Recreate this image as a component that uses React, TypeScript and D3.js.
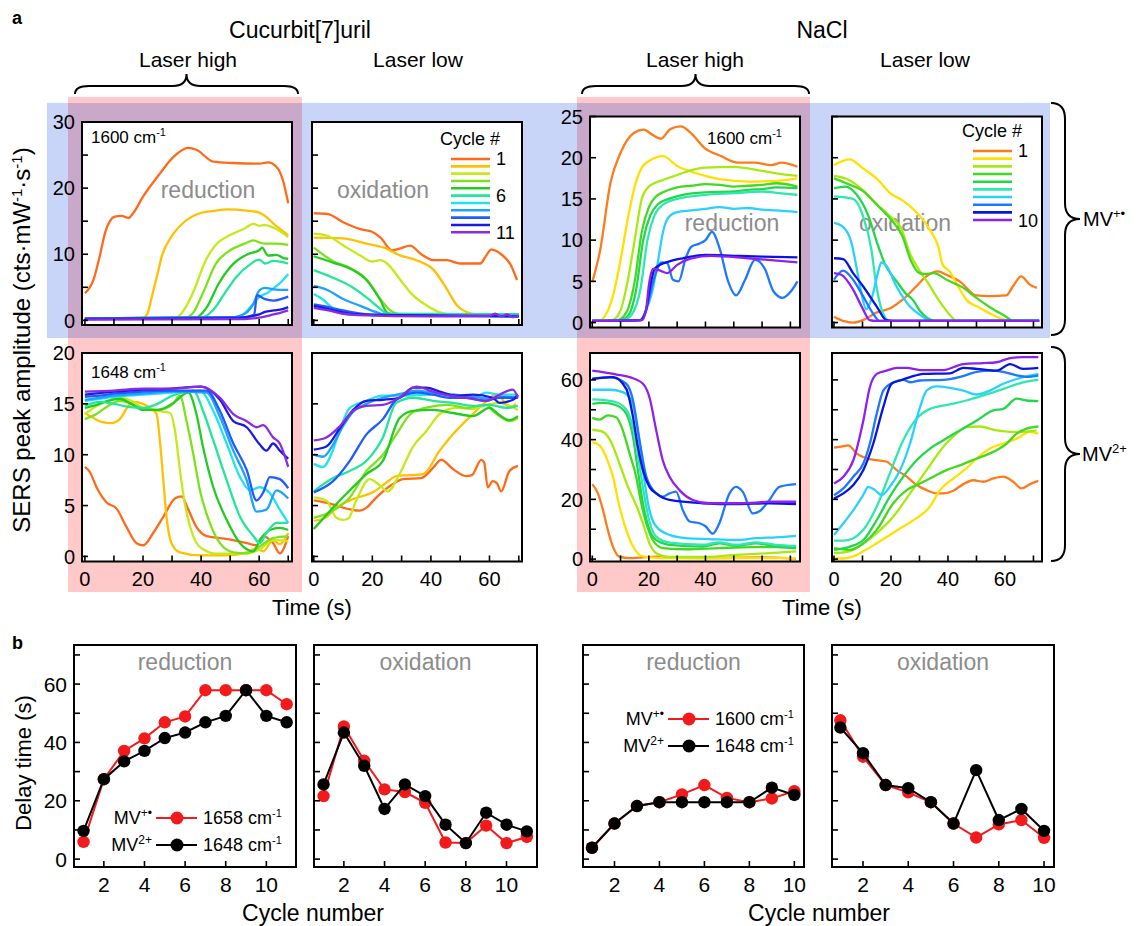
import React from "react";
import * as d3 from "d3";

type Pt = [number, number];

const FONT = "'Liberation Sans', Arial, Helvetica, sans-serif";

// cycle colours
const cbColors = ["#ff6a1a", "#ffc000", "#c4ea1a", "#7ee21a", "#22cc22", "#22e69a", "#22e2ee", "#1ea2ff", "#1e5cff", "#1a1ae0", "#8a2be2"];
const naColors = ["#ff7a1a", "#ffe000", "#a8ea10", "#44d820", "#22d84a", "#2ee8b0", "#2ad0ff", "#1e78ff", "#0a14e0", "#9020f0"];

// ---------- a: Cucurbit[7]uril, MV+. 1600 cm-1, laser high ----------
const cbRedMV1: Pt[][] = [
  [[0, 4.1], [3, 6.2], [5, 9.5], [7, 13.3], [8.6, 15], [10.3, 15.7], [12.6, 15.8], [15, 15.5], [16.6, 16.2], [20, 18.7], [25.8, 22.2], [30.4, 24.7], [35.6, 26.1], [38.4, 25.8], [44.2, 24], [51, 23.8], [60.2, 23.7], [63, 23.9], [66, 23.2], [68.3, 21], [70, 17.7]],
  [[0, 0.3], [20, 0.4], [21.5, 1], [23, 3.5], [25, 7], [26.4, 9.6], [30, 12.8], [34, 14.8], [39.6, 16.2], [45, 16.6], [48.8, 16.8], [55.7, 16.6], [60, 16.3], [62, 15.8], [65, 14.6], [70, 12.9]],
  [[0, 0.3], [31, 0.3], [34, 1.5], [38, 5], [41, 8.5], [45, 11.4], [50, 12.9], [55, 13.9], [58, 14.6], [60, 14.3], [62, 14.4], [65, 14.0], [70, 12.6]],
  [[0, 0.3], [34, 0.3], [37, 1], [41, 4.5], [45, 8.5], [50, 10.6], [55, 11.6], [58, 12.1], [60, 11.8], [62, 11.6], [66, 11.6], [70, 11.4]],
  [[0, 0.3], [38, 0.4], [42, 2], [46, 5.5], [51, 8.5], [56, 10], [60, 10.6], [61, 11.0], [63, 9.8], [66, 9.9], [68, 9.5], [70, 9.3]],
  [[0, 0.3], [40, 0.4], [44, 1.5], [48, 4], [52, 6.5], [57, 8.5], [60, 9.2], [62, 8.6], [65, 9.0], [70, 8.6]],
  [[0, 0.3], [50, 0.4], [54, 0.8], [57, 2], [60, 3.5], [63, 4.2], [66, 5.2], [68, 6], [70, 7]],
  [[0, 0.3], [50, 0.4], [55, 1.0], [58, 2.5], [60, 4.5], [62, 4.9], [65, 4.7], [68, 4.6], [70, 4.6]],
  [[0, 0.3], [55, 0.5], [58.3, 0.9], [59.2, 3.8], [62, 3.2], [65, 3.0], [68, 3.3], [70, 3.6]],
  [[0, 0.2], [52, 0.3], [57, 0.6], [60, 0.9], [62, 1.3], [65, 1.5], [68, 1.7], [70, 2.0]],
  [[0, 0.1], [55, 0.2], [60, 0.4], [64, 0.8], [67, 1.1], [70, 1.5]],
];

// Cucurbit[7]uril, MV+. 1600 cm-1, laser low
const cbOxMV1: Pt[][] = [
  [[0, 16.2], [4.6, 16.1], [10.2, 14.8], [15.9, 13.8], [19.9, 13.4], [22.8, 12.5], [26.7, 10.6], [29.6, 10.9], [33, 11.3], [36.4, 10.1], [41, 9.1], [45.5, 9.1], [50, 8.6], [56.9, 8.6], [58.6, 9.6], [60.6, 10.7], [63.7, 10.1], [67.2, 8.4], [69.4, 6.1]],
  [[0, 12.5], [10, 12.4], [18, 11.6], [24, 11], [29.6, 9.8], [35, 9.1], [41, 7.6], [45.5, 4.7], [49, 2.2], [52.4, 1.2], [56, 0.9], [70, 0.9]],
  [[0, 13.1], [4.6, 12.8], [10.2, 11.3], [15.9, 9.8], [19.9, 8.9], [22.8, 9.1], [25, 8.6], [29.6, 6.1], [33, 4.2], [38.7, 2.2], [43, 1.2], [47, 0.9], [70, 0.9]],
  [[0, 11], [6.8, 8.9], [12.5, 7.9], [18.2, 6.1], [22.8, 3.2], [26.2, 1.5], [30, 0.9], [70, 0.9]],
  [[0, 9.7], [6.8, 8.7], [12.5, 7.8], [18.2, 6.0], [22.8, 3.0], [25, 1.2], [28, 0.9], [70, 0.9]],
  [[0, 7.6], [6.8, 6.4], [12.5, 5.2], [18.2, 3.4], [22.8, 1.7], [25, 1.0], [70, 0.9]],
  [[0, 4.0], [3, 3.2], [6, 2], [9, 1.2], [12, 0.9], [70, 0.7]],
  [[0, 5.2], [4.6, 4.6], [10.2, 3.2], [15.9, 2.2], [21.6, 1.2], [25, 0.8], [70, 0.7]],
  [[0, 2.4], [5, 2.0], [10, 1.5], [15, 1.1], [20, 0.8], [70, 0.6]],
  [[0, 2.2], [5, 1.7], [10, 1.2], [15, 0.9], [70, 0.6]],
  [[0, 1.9], [5, 1.5], [10, 1.0], [15, 0.8], [40, 0.6], [60, 0.7], [62, 1.0], [64, 0.6], [66, 0.9], [68, 0.5], [70, 0.6]],
];

// NaCl, MV+. 1600 cm-1, laser high
const naRedMV1: Pt[][] = [
  [[0, 4.9], [2.8, 8.8], [6.4, 16.9], [10, 20.6], [14.7, 23], [18.2, 23.4], [21.2, 22.8], [24.2, 22.3], [27.7, 23.5], [31.3, 23.8], [34.8, 23], [39.6, 21.2], [45.5, 20.2], [51.4, 19.4], [57.3, 19.4], [63.3, 19.1], [66.8, 19.4], [72.5, 18.9]],
  [[0, 0.2], [3, 0.3], [5, 1.1], [7.5, 3.5], [10, 7.6], [12.5, 12.5], [15, 16.5], [17.5, 18.8], [20, 19.6], [25, 20.2], [30, 19], [35, 18.3], [40, 17.8], [45, 17.4], [55, 17.1], [65, 17.2], [72.5, 17.5]],
  [[0, 0.2], [7, 0.3], [10, 1.5], [12.5, 5], [15, 10], [17.5, 15], [20, 16.5], [25, 17.3], [30, 17.9], [35, 18.5], [40, 18.8], [50, 18.9], [55, 18.7], [60, 18.4], [65, 18.1], [72.5, 17.8]],
  [[0, 0.2], [9, 0.3], [12, 1.2], [15, 5], [17.5, 11], [20, 14], [22.5, 15.3], [25, 15.8], [30, 16.4], [35, 16.6], [40, 16.8], [45, 16.7], [50, 16.5], [55, 16.6], [60, 16.7], [65, 16.9], [72.5, 16.5]],
  [[0, 0.2], [10, 0.3], [13, 1], [15.5, 4], [18, 10], [20.5, 13], [23, 14.3], [27, 15], [32, 15.5], [40, 15.8], [50, 15.9], [55, 16.1], [60, 16.2], [65, 16.4], [72.5, 16.3]],
  [[0, 0.2], [11, 0.3], [14, 1], [17, 4], [19.5, 10], [22, 13], [25, 14.3], [30, 15], [40, 15.5], [50, 15.7], [60, 15.9], [66, 15.7], [72.5, 15.5]],
  [[0, 0.2], [17, 0.3], [19, 1.5], [21, 3.5], [23, 7], [25, 11], [27, 12.8], [30, 13.4], [35, 13.6], [40, 13.8], [45, 14], [50, 13.8], [55, 13.9], [60, 13.7], [65, 13.6], [72.5, 13.4]],
  [[0, 0.2], [17, 0.3], [19, 1.5], [20, 2.8], [22, 5.5], [24.5, 7.3], [26.5, 7.2], [28.5, 5.2], [30.5, 5.0], [33, 7.8], [35, 9.2], [38, 9.6], [40, 10], [42.3, 11.0], [45, 9], [48, 5], [50.8, 3.3], [54, 5.2], [57.5, 7.6], [61, 6.5], [64, 3.8], [67.3, 3.0], [70, 3.7], [72.5, 5.0]],
  [[0, 0.2], [17, 0.3], [19, 1.5], [20.5, 4.5], [22, 6.5], [24, 7.0], [27, 7.4], [32, 7.8], [40, 8.2], [50, 8.1], [60, 8.0], [72.5, 7.9]],
  [[0, 0.2], [17.5, 0.3], [19, 1.5], [20, 4.5], [21.5, 6.5], [24, 6.3], [26.5, 6.0], [30, 7], [35, 7.8], [42, 8.1], [55, 7.8], [72.5, 7.3]],
];

// NaCl, MV+. 1600 cm-1, laser low
const naOxMV1: Pt[][] = [
  [[0, 0.7], [3.2, 0.2], [6.7, 0], [10.2, 0.3], [14.9, 1.2], [20.1, 1.8], [24.2, 2.8], [28.9, 4.4], [32.4, 5.6], [36.5, 6.2], [39.4, 5.8], [44.1, 5.0], [49.9, 3.3], [54.6, 3.2], [60.5, 3.3], [62.8, 4.4], [65.7, 5.6], [68.7, 4.6], [71.2, 4.2]],
  [[0, 19.1], [5.5, 19.8], [10.2, 18.7], [14.9, 17.5], [20.1, 15.6], [24.2, 14.8], [28.9, 13.4], [33.6, 11.3], [36.5, 9.3], [38.2, 7], [40.6, 6.2], [43.5, 4.4], [46.4, 2.8], [51.1, 1.8], [57, 0.7], [61.6, 0.2], [72, 0.2]],
  [[0, 17.8], [5.3, 17.3], [10, 16.1], [15.5, 14.2], [20, 12.8], [23.5, 11.5], [26.5, 8.5], [30, 6.3], [33, 4.8], [37, 2.6], [41, 0.8], [43, 0.2], [72, 0.2]],
  [[0, 17.5], [5, 16.8], [10, 16.0], [15, 14.3], [20, 12.5], [24, 10.5], [27, 7.5], [30, 6.0], [32, 5.9], [35, 6.0], [40, 5.1], [45, 4.3], [50, 3.0], [55, 1.8], [60, 0.8], [63, 0.2], [72, 0.2]],
  [[0, 16.3], [4, 16.5], [8, 15.5], [12, 13.0], [15, 9.8], [18, 7.0], [22, 5.0], [25, 3.6], [28, 2.6], [30, 1.5], [33, 0.5], [36, 0.2], [72, 0.2]],
  [[0, 15.3], [6.7, 15], [10.2, 12.9], [13.1, 8.9], [14.9, 4.4], [17.2, 1.1], [19.5, 0.2], [72, 0.2]],
  [[0, 12.1], [3.2, 11.6], [6.1, 9.7], [7.8, 6.9], [9.6, 3.6], [11.3, 1.6], [13.1, 2.8], [15.4, 6.0], [16.6, 7.3], [18.4, 6.9], [21.9, 4.4], [26.5, 2.0], [31.2, 0.7], [33.6, 0.2], [72, 0.2]],
  [[0, 5.2], [3.2, 6.3], [6.7, 5.2], [10.2, 3.2], [13.7, 1.1], [16, 0.2], [72, 0.2]],
  [[0, 7.8], [3.2, 7.7], [6.7, 6.0], [10.2, 4.4], [14.9, 2.0], [18.4, 0.3], [20.7, 0.2], [72, 0.2]],
  [[0, 6.0], [2.6, 5.8], [6.7, 4.0], [10.2, 1.6], [12.5, 0.3], [14.9, 0.2], [72, 0.2]],
];

// Cucurbit[7]uril, MV2+ 1648 cm-1, laser high
const cbRedMV2: Pt[][] = [
  [[0, 8.8], [1.7, 8.3], [4, 6.8], [7.5, 5.3], [10.9, 4.7], [14.3, 2.9], [17.8, 1.3], [20.1, 1.1], [23.5, 2.3], [27, 3.9], [31, 5.7], [33.3, 5.9], [35.6, 4.6], [38.4, 2.9], [41.9, 2.0], [46.5, 1.8], [51, 1.6], [55.7, 1.3], [59.1, 1.1], [61.4, 2.0], [64.8, 1.3], [67.1, 0.3], [70, 2.0]],
  [[0, 14.1], [3, 13.6], [6, 13.2], [9, 13.1], [12, 13.5], [15, 14.8], [17, 15.2], [20, 15.0], [23, 14.5], [24.7, 14.0], [25.8, 11.4], [27, 7.5], [28.1, 3.9], [29.8, 1.3], [32.7, 0.4], [40, 0.1], [48.8, 0.1], [55.7, 0.4], [59.1, 0.8], [61.4, 0.5], [64.8, 1.6], [67, 1.2], [70, 2.3]],
  [[0, 14.0], [4, 14.8], [8, 15.3], [12, 15.6], [16, 15.3], [20, 14.6], [25, 14.3], [29.3, 14.1], [31, 12.4], [32.7, 8.5], [34.4, 5.2], [37.3, 2.0], [40.7, 0.7], [45.3, 0.26], [55.7, 0.3], [60.2, 0.7], [64.8, 1.6], [70, 1.5]],
  [[0, 13.5], [4, 14.0], [8, 14.8], [12, 15.3], [16, 15.0], [20, 14.5], [25, 14.4], [30, 14.9], [32.7, 15.8], [35, 13.3], [37.3, 10.1], [39.6, 6.5], [43, 3.3], [46.5, 1.3], [51.1, 0.4], [55.7, 0.3], [60.2, 1.0], [64.8, 1.8], [70, 2.0]],
  [[0, 14.6], [4, 14.9], [8, 15.3], [12, 15.5], [16, 15.0], [20, 14.4], [25, 14.4], [30, 15.0], [35.6, 16.1], [38.4, 14.0], [40.7, 10.7], [44.2, 6.8], [48.8, 3.6], [53.4, 1.3], [58, 0.5], [60.2, 1.6], [63.7, 2.6], [67.1, 2.8], [70, 2.6]],
  [[0, 14.8], [5, 15.2], [10, 15.0], [15, 14.7], [20, 14.6], [25, 15.0], [30, 15.8], [35, 16.2], [37.3, 16.3], [40.7, 14.3], [44.2, 11.4], [48.8, 7.5], [53.4, 3.9], [58, 2.0], [60.2, 1.3], [62.5, 2.3], [66, 3.3], [70, 3.3]],
  [[0, 15.3], [5, 15.5], [10, 15.7], [20, 15.9], [30, 16.1], [39.6, 16.3], [44.2, 14.3], [48.8, 11.1], [53.4, 7.8], [56.8, 6.5], [60.2, 6.8], [63.7, 6.2], [67.1, 4.6], [70, 3.3]],
  [[0, 15.4], [5, 15.6], [10, 15.8], [20, 16.0], [30, 16.2], [41.9, 16.1], [46.5, 13.7], [51.1, 10.4], [55.7, 7.5], [59.1, 4.4], [62.5, 4.6], [66, 6.5], [70, 5.7]],
  [[0, 15.7], [5, 15.8], [10, 16.0], [20, 16.2], [30, 16.3], [41.9, 16.3], [46.5, 14.3], [51.1, 11.1], [55.7, 8.5], [59.1, 5.5], [61.4, 6.3], [63.7, 7.8], [67.1, 7.6], [70, 6.7]],
  [[0, 15.9], [10, 16.2], [20, 16.4], [30, 16.5], [40, 16.7], [46.5, 15.4], [51.1, 13.3], [55.7, 12.7], [60.2, 11.0], [62.5, 10.4], [64.8, 11.1], [67.1, 10.4], [70, 9.6]],
  [[0, 16.2], [10, 16.3], [20, 16.5], [30, 16.5], [40, 16.7], [46.5, 15.6], [51.1, 14.0], [55.7, 13.3], [59.1, 12.7], [61.4, 12.9], [64.8, 11.7], [67.1, 11.1], [70, 8.8]],
];

// Cucurbit[7]uril, MV2+ 1648 cm-1, laser low
const cbOxMV2: Pt[][] = [
  [[0, 5.5], [5.5, 5.2], [12.8, 4.6], [15.7, 4.5], [18, 4.8], [21.4, 5.8], [25.9, 6.9], [30.5, 7.6], [36.7, 7.7], [40.7, 8.7], [43.5, 9.5], [47.5, 8.6], [52, 7.9], [54, 8.0], [57.2, 9.5], [58.2, 9.2], [59.4, 6.8], [61.1, 7.4], [62.5, 7.2], [64, 6.4], [66.8, 8.4], [69.7, 8.9]],
  [[0, 3.5], [4, 3.8], [7.7, 4.8], [14, 5.7], [20.2, 6.3], [25, 7.3], [28.2, 7.9], [33, 8.0], [37.3, 8.1], [43, 10.4], [47.5, 12.0], [54.3, 14.0], [58, 15.0], [62.3, 15.9], [64.5, 15.4], [66.8, 14.6], [69, 15.0]],
  [[0, 5.8], [4.3, 5.5], [7.7, 3.8], [10, 3.6], [11.7, 3.7], [14.5, 5.5], [19.1, 7.6], [22.5, 7.0], [25.3, 6.4], [29.3, 8.1], [33.9, 10.8], [38.4, 12.3], [43, 14.0], [48.6, 14.6], [54.3, 14.5], [58.9, 14.9], [63.4, 15.1], [69.7, 14.4]],
  [[0, 3.8], [6.6, 4.5], [12.3, 5.8], [18, 8.4], [23.6, 10], [28.2, 12], [33, 14], [38, 14.6], [46, 14.9], [52, 14.6], [58.9, 14.9], [61.1, 14.3], [63.4, 13.8], [66.8, 13.3], [69.7, 13.6]],
  [[0, 2.7], [6.6, 4.8], [12.3, 6.5], [18, 8.1], [23.6, 9.4], [29.3, 13.6], [33.9, 14.3], [40.7, 14.4], [47.5, 14.1], [54.3, 13.8], [60, 14.6], [63.4, 13.9], [66.8, 13.4], [69.7, 13.8]],
  [[0, 6.4], [6.6, 7.7], [12.3, 8.4], [18, 9.4], [23.6, 11.7], [28.2, 15.1], [33.9, 15.6], [40.7, 15.3], [47.5, 15.1], [54.3, 14.8], [60, 14.9], [65.7, 14.6], [69.7, 14.8]],
  [[0, 9.1], [3.2, 8.8], [6.6, 10.5], [9, 12.5], [12.3, 14.6], [18, 15.3], [23.6, 15.8], [30, 15.8], [40, 15.9], [48.6, 15.9], [54.3, 15.6], [58.9, 16.1], [63.4, 15.9], [69.7, 15.9]],
  [[0, 10.0], [3.2, 9.8], [6.6, 11.0], [10, 12.8], [13.4, 14.2], [18, 15.0], [23.6, 15.6], [30, 16.0], [35, 16.3], [40.7, 16.1], [47.5, 15.9], [54.3, 15.7], [60, 15.5], [65, 15.7], [69.7, 15.6]],
  [[0, 6.3], [6.6, 7.4], [12.3, 9.4], [18, 12], [23.6, 13.5], [28.2, 15.4], [35, 16.1], [40.7, 15.9], [46.4, 15.6], [52, 15.6], [58.9, 15.3], [63.4, 15.6], [69.7, 15.6]],
  [[0, 10.5], [4.3, 10.8], [8.9, 12.6], [13.4, 14.4], [18, 15.3], [23.6, 15.4], [29.3, 15.6], [33.9, 16.6], [38.4, 16.6], [43, 16.2], [48.6, 15.8], [54.3, 15.9], [61.1, 15.6], [63.4, 15.1], [68, 15.4], [69.7, 15.9]],
  [[0, 11.4], [4.3, 11.7], [8.9, 12.8], [13.4, 14.3], [18, 14.8], [23.6, 14.9], [29.3, 15.6], [35, 16.7], [40.7, 16.2], [46.4, 15.8], [52, 15.6], [58.9, 15.3], [63.4, 15.9], [68, 16.4], [69.7, 15.6]],
];

// NaCl, MV2+ 1648 cm-1, laser high
const naRedMV2: Pt[][] = [
  [[0, 25.1], [2, 22], [3.8, 16.4], [5.5, 9.8], [7.3, 4.2], [9.6, 0.8], [13.2, 0.3], [23, 0.8], [27, 0.4], [40, 0.3], [60, 0.6], [72, 0.2]],
  [[0, 39.2], [2.6, 38.1], [4.9, 34.2], [7.3, 27.6], [9.6, 17.6], [12, 9.8], [14.4, 4.2], [17.9, 0.9], [25, 0.3], [72, 0.3]],
  [[0, 43.3], [3.8, 42.6], [6.5, 39.5], [9.6, 32], [12.6, 24.2], [15.5, 18.1], [17.9, 12], [20.2, 5.3], [22.6, 2.0], [27.3, 0.7], [39, 0.7], [50.8, 1.4], [62.6, 2.0], [72, 2.6]],
  [[0, 47.3], [2.6, 46.7], [5.5, 48.1], [8.5, 47.5], [10.8, 43.1], [13.2, 35.3], [15.5, 27.6], [17.3, 18.7], [19.1, 12], [21.4, 6.4], [24.9, 3.7], [33.2, 3.3], [44.9, 3.7], [56.7, 4.0], [68.5, 4.0], [72, 4.2]],
  [[0, 52], [3.8, 52.3], [8.5, 51.5], [12, 48.7], [14.4, 40.9], [16.1, 29.8], [17.9, 18.7], [20.2, 9.8], [22.6, 6.4], [27.3, 4.8], [39, 4.2], [44.9, 5.3], [50.8, 4.4], [57.9, 5.3], [64.9, 4.2], [72, 3.7]],
  [[0, 53.5], [3.8, 53.3], [8.5, 52.5], [12, 50], [14.4, 44], [16.1, 35], [17.9, 24], [20.2, 12.5], [22.6, 7.5], [27.3, 5.5], [39, 4.8], [44.9, 5.6], [50.8, 4.8], [57.9, 5.6], [64.9, 4.8], [72, 4.4]],
  [[0, 56.7], [6.1, 56.7], [10.8, 55.9], [13.8, 53.1], [16.1, 43.1], [17.9, 29.8], [20.2, 16.4], [22.6, 10.9], [27.3, 8.1], [33.2, 7.0], [41.4, 6.7], [50.8, 6.4], [57.9, 7.0], [64.9, 7.3], [72, 7.8]],
  [[0, 60.3], [6.1, 60.9], [12, 58.7], [14.4, 53.1], [16.7, 39.8], [19.1, 27.6], [22.6, 22], [24.9, 20.9], [27.3, 22], [29.6, 22.6], [32, 16.4], [34.4, 12.6], [37.9, 12], [40, 11], [42.6, 8.5], [44.9, 12], [48.5, 22], [50.8, 24.2], [53.2, 22.5], [56.7, 15.3], [59.1, 16], [62.6, 19.8], [66.1, 24.2], [72, 25.1]],
  [[0, 60.3], [7.3, 60.9], [12, 57], [14.4, 47.6], [16.1, 37.6], [17.9, 29.8], [20.2, 24.2], [22.6, 22], [27.3, 19.8], [39, 18.7], [50.8, 18.4], [62.6, 18.7], [72, 18.4]],
  [[0, 63.1], [3.8, 62.6], [8.5, 61.8], [13.2, 60.9], [17.9, 58.7], [20.2, 54.2], [22.6, 43.1], [24.9, 33.1], [27.3, 27.6], [30.8, 23.1], [35.5, 19.8], [41.4, 18.7], [50.8, 18.7], [57.9, 18.9], [62.6, 19.2], [72, 19.2]],
];

// NaCl, MV2+ 1648 cm-1, laser low
const naOxMV2: Pt[][] = [
  [[0, 37.3], [3.3, 37.8], [5, 38.1], [8, 35.3], [11.5, 33.7], [15, 33.1], [18.5, 32.6], [22, 29.8], [25.5, 27.6], [29, 24.8], [32.5, 23.1], [36, 22], [38.4, 22], [41.9, 22.9], [45.4, 25.1], [48.9, 26.4], [52.4, 25.9], [55.9, 27], [59.4, 27.6], [62.9, 25.9], [65.8, 23.7], [68.8, 25.1], [71.7, 26.2]],
  [[0, 0.2], [3.3, 0.2], [6.8, 0.9], [10.3, 2.6], [15, 5.3], [19.6, 8.1], [24.3, 10.9], [29, 13.7], [33.7, 17.6], [37.2, 23.1], [39.5, 25.3], [41.9, 27], [46, 30], [50.1, 33.7], [54.7, 37], [59.4, 38.7], [64.1, 40.3], [68.8, 42.6], [71.7, 42]],
  [[0, 2], [5, 2.5], [10, 5], [15, 8.7], [20.8, 14.2], [26.7, 22], [32.5, 29.8], [38.4, 37.6], [43, 42], [46.5, 44.2], [51.2, 44.4], [57.1, 43.1], [61.8, 42.6], [66, 42.6], [71.1, 43.1]],
  [[0, 3.7], [5.6, 3.1], [10.3, 5.3], [15, 9.8], [20.8, 18.7], [25.5, 23.1], [30.2, 25.3], [34.9, 27.6], [39.5, 29.8], [44.2, 31.4], [50.1, 33.7], [55.9, 35.9], [60.6, 38.7], [64.1, 42], [67.6, 43.7], [71.7, 44.4]],
  [[0, 3.1], [5.6, 4.2], [10.3, 6.4], [15, 13.1], [19.6, 20.9], [24.3, 27.6], [29, 33.1], [33.7, 37], [38.4, 39.8], [44.2, 43.1], [50.1, 46.4], [55.9, 49.8], [59.4, 50.3], [64.1, 53.7], [67.6, 53.1], [71.7, 52.9]],
  [[0, 6.2], [3.3, 6.2], [6.8, 7], [10.3, 9.8], [15, 17.6], [19.6, 28.7], [24.3, 39.8], [29, 47], [33.7, 50.3], [40.7, 51.8], [46.5, 53.1], [52.4, 54.8], [59.4, 57], [66.4, 59.2], [71.7, 60]],
  [[0, 8.1], [3.3, 12], [6.8, 16.4], [10.3, 21.5], [12, 24.2], [14.4, 23.1], [16.7, 21.4], [19.6, 24.2], [23.2, 29.8], [26.7, 38.7], [30.2, 50.9], [32.5, 56.4], [36, 57.8], [40.7, 57.3], [45.4, 56.4], [50.1, 55.1], [54.7, 56.4], [59.4, 58.7], [64.1, 60.3], [68.8, 61.4], [71.7, 62]],
  [[0, 21.4], [3.3, 23.7], [6.8, 27.6], [10.3, 32], [12.6, 38.7], [15, 48.7], [17.3, 56.4], [20.8, 59.2], [24.3, 60], [26.7, 59.2], [30.2, 59.8], [38.4, 60], [44.2, 61], [50.1, 62.7], [54.7, 63.1], [59.4, 62.7], [64.1, 61.5], [67.6, 61], [71.7, 61.4]],
  [[0, 20.3], [3.3, 22], [6.8, 24.8], [10.3, 29.8], [13.8, 38.7], [17.3, 50.9], [20.2, 58.7], [23.2, 59.8], [26.7, 60.9], [31.3, 62], [40.7, 62.2], [45.4, 64], [50.1, 63.7], [57.1, 63.1], [61.8, 65.3], [66.4, 63.7], [71.7, 64]],
  [[0, 25.3], [3.3, 27.6], [6.8, 33.1], [10.3, 46.4], [12.6, 57.6], [15, 62], [18.5, 63.1], [22, 64], [25.5, 64], [30.2, 63.3], [38.4, 63.3], [45.4, 65.3], [52.4, 65.6], [57.1, 65.9], [61.8, 67.3], [66.4, 67.6], [71.7, 67.6]],
];

// ---------- b: delay times ----------
const cbCycles = [1, 2, 3, 4, 5, 6, 7, 8, 9, 10, 11];
const naCycles = [1, 2, 3, 4, 5, 6, 7, 8, 9, 10];
const cbRedDelayMV1 = [5.9, 27.4, 37.1, 41.4, 46.9, 48.9, 57.9, 57.9, 57.9, 57.9, 53.1];
const cbRedDelayMV2 = [9.7, 27.4, 33.5, 37.1, 41.5, 43.4, 46.9, 49.1, 57.9, 49.1, 46.9];
const cbOxDelayMV1 = [21.6, 45.5, 33.7, 23.9, 23.0, 19.3, 5.7, 5.5, 11.5, 5.5, 7.6];
const cbOxDelayMV2 = [25.6, 43.4, 32.0, 17.2, 25.6, 21.6, 11.8, 5.5, 15.9, 11.8, 9.5];
const naRedDelayMV1 = [3.9, 12.2, 18.2, 19.5, 22.2, 25.4, 21.0, 19.5, 20.8, 23.3];
const naRedDelayMV2 = [3.9, 12.2, 18.2, 19.5, 19.5, 19.5, 19.5, 19.5, 24.5, 22.0];
const naOxDelayMV1 = [47.6, 35.1, 25.4, 22.9, 19.5, 12.2, 7.4, 11.9, 13.4, 7.3];
const naOxDelayMV2 = [45.1, 36.3, 25.4, 24.3, 19.5, 12.2, 30.5, 13.4, 17.2, 9.7];

const GRAY = "#8c8c8c";

// ---------- panel layout ----------
const colA = [
  { x: 82, w: 210, xDom: [-1, 71.3] },
  { x: 312, w: 210, xDom: [-0.6, 71.1] },
  { x: 590, w: 210, xDom: [-0.8, 73.4] },
  { x: 832, w: 210, xDom: [-0.7, 73] },
];

const panelsA = [
  { col: 0, y: 122, h: 203, yDom: [-0.7, 30], yStep: 5, yLabels: [0, 10, 20, 30], xLabels: false, data: cbRedMV1, colors: cbColors },
  { col: 1, y: 122, h: 203, yDom: [-0.7, 30], yStep: 5, yLabels: [], xLabels: false, data: cbOxMV1, colors: cbColors },
  { col: 2, y: 116.5, h: 211, yDom: [-0.6, 25], yStep: 5, yLabels: [0, 5, 10, 15, 20, 25], xLabels: false, data: naRedMV1, colors: naColors },
  { col: 3, y: 116.5, h: 211, yDom: [-0.6, 25], yStep: 5, yLabels: [], xLabels: false, data: naOxMV1, colors: naColors },
  { col: 0, y: 353, h: 208.5, yDom: [-0.5, 20], yStep: 5, yLabels: [0, 5, 10, 15, 20], xLabels: true, data: cbRedMV2, colors: cbColors },
  { col: 1, y: 353, h: 208.5, yDom: [-0.5, 20], yStep: 5, yLabels: [], xLabels: true, data: cbOxMV2, colors: cbColors },
  { col: 2, y: 353, h: 208.5, yDom: [-0.8, 69], yStep: 10, yLabels: [0, 20, 40, 60], xLabels: true, data: naRedMV2, colors: naColors },
  { col: 3, y: 353, h: 208.5, yDom: [-0.8, 69], yStep: 10, yLabels: [], xLabels: true, data: naOxMV2, colors: naColors },
];

const Sup = ({ t, size = 11, up = 7 }: { t: string; size?: number; up?: number }) => (
  <tspan dy={-up} fontSize={size}>{t}</tspan>
);

function TracePanel({ p, idx }: { p: any; idx: number }) {
  const c = colA[p.col];
  const x = d3.scaleLinear().domain(c.xDom).range([c.x, c.x + c.w]);
  const y = d3.scaleLinear().domain(p.yDom).range([p.y + p.h, p.y]);
  const line = d3.line<Pt>().x((d) => x(d[0])).y((d) => y(d[1])).curve(d3.curveMonotoneX);
  const xTicks = d3.range(0, 71, 10);
  const yTicks = d3.range(0, p.yDom[1] + 0.01, p.yStep);
  const clip = `clipA${idx}`;
  const bottom = p.y + p.h;
  return (
    <g>
      <rect x={c.x} y={p.y} width={c.w} height={p.h} fill="#fff" />
      <clipPath id={clip}>
        <rect x={c.x} y={p.y} width={c.w} height={p.h} />
      </clipPath>
      {p.notes}
      <g clipPath={`url(#${clip})`}>
        {p.data.map((s: Pt[], i: number) => (
          <path key={i} d={line(s) || ""} fill="none" stroke={p.colors[i]} strokeWidth={2.3} strokeLinejoin="round" />
        ))}
      </g>
      {xTicks.map((t) => (
        <line key={"xt" + t} x1={x(t)} x2={x(t)} y1={bottom} y2={bottom - 6} stroke="#000" strokeWidth={1.6} />
      ))}
      {yTicks.map((t: number) => (
        <line key={"yt" + t} x1={c.x} x2={c.x + 6} y1={y(t)} y2={y(t)} stroke="#000" strokeWidth={1.6} />
      ))}
      {p.yLabels.map((t: number) => (
        <text key={"yl" + t} x={c.x - 7} y={y(t)} dy="0.36em" textAnchor="end" fontSize={20}>{t}</text>
      ))}
      {p.xLabels &&
        [0, 20, 40, 60].map((t) => (
          <text key={"xl" + t} x={x(t)} y={bottom + 24} textAnchor="middle" fontSize={20}>{t}</text>
        ))}
      <rect x={c.x} y={p.y} width={c.w} height={p.h} fill="none" stroke="#000" strokeWidth={2} />
    </g>
  );
}

// b panels
const colB = [
  { x: 74, w: 222, xDom: [0.53, 11.46], cycles: cbCycles, mv1: cbRedDelayMV1, mv2: cbRedDelayMV2, yLabels: true, title: "reduction" },
  { x: 314, w: 223, xDom: [0.53, 11.5], cycles: cbCycles, mv1: cbOxDelayMV1, mv2: cbOxDelayMV2, yLabels: false, title: "oxidation" },
  { x: 583, w: 221, xDom: [0.6, 10.43], cycles: naCycles, mv1: naRedDelayMV1, mv2: naRedDelayMV2, yLabels: false, title: "reduction" },
  { x: 832, w: 222, xDom: [0.63, 10.44], cycles: naCycles, mv1: naOxDelayMV1, mv2: naOxDelayMV2, yLabels: false, title: "oxidation" },
];
const bTop = 645;
const bH = 222;
const bYDom = [-2.7, 73.4];

function DelayPanel({ c }: { c: any }) {
  const x = d3.scaleLinear().domain(c.xDom).range([c.x, c.x + c.w]);
  const y = d3.scaleLinear().domain(bYDom).range([bTop + bH, bTop]);
  const line = d3.line<number>().x((_, i) => x(c.cycles[i])).y((d) => y(d));
  const bottom = bTop + bH;
  const series = [
    { vals: c.mv1, color: "#f21a1a" },
    { vals: c.mv2, color: "#000" },
  ];
  return (
    <g>
      <text x={c.x + c.w / 2} y={bTop + 25} textAnchor="middle" fontSize={23} fill={GRAY}>{c.title}</text>
      {series.map((s, k) => (
        <g key={k}>
          <path d={line(s.vals) || ""} fill="none" stroke={s.color} strokeWidth={2} />
          {s.vals.map((v: number, i: number) => (
            <circle key={i} cx={x(c.cycles[i])} cy={y(v)} r={6.2} fill={s.color} />
          ))}
        </g>
      ))}
      {[2, 4, 6, 8, 10].map((t) => (
        <g key={"bx" + t}>
          <line x1={x(t)} x2={x(t)} y1={bottom} y2={bottom - 6} stroke="#000" strokeWidth={1.6} />
          <text x={x(t)} y={bottom + 25} textAnchor="middle" fontSize={21}>{t}</text>
        </g>
      ))}
      {d3.range(0, 71, 10).map((t) => (
        <line key={"by" + t} x1={c.x} x2={c.x + 6} y1={y(t)} y2={y(t)} stroke="#000" strokeWidth={1.6} />
      ))}
      {c.yLabels &&
        [0, 20, 40, 60].map((t) => (
          <text key={"byl" + t} x={c.x - 7} y={y(t)} dy="0.36em" textAnchor="end" fontSize={21}>{t}</text>
        ))}
      <rect x={c.x} y={bTop} width={c.w} height={bH} fill="none" stroke="#000" strokeWidth={2} />
    </g>
  );
}

function DelayLegend({ x0, y0, label }: { x0: number; y0: number; label: string }) {
  const rows = [
    { name: "+•", color: "#f21a1a", wn: label },
    { name: "2+", color: "#000", wn: "1648" },
  ];
  return (
    <g fontSize={18}>
      {rows.map((r, i) => (
        <g key={i} transform={`translate(0,${i * 27})`}>
          <text x={x0 + 41} y={y0} dy="0.36em" textAnchor="end">
            MV<Sup t={r.name} size={12} up={7} />
          </text>
          <line x1={x0 + 45} x2={x0 + 86} y1={y0} y2={y0} stroke={r.color} strokeWidth={2} />
          <circle cx={x0 + 66} cy={y0} r={6.5} fill={r.color} />
          <text x={x0 + 92} y={y0} dy="0.36em">
            {r.wn} cm<Sup t="-1" size={11} up={7} />
          </text>
        </g>
      ))}
    </g>
  );
}

function hBrace(x1: number, x2: number, yEnd: number, yBar: number, yTip: number) {
  const xm = (x1 + x2) / 2;
  const r = 14;
  return `M${x1},${yEnd} Q${x1},${yBar} ${x1 + r},${yBar} L${xm - r},${yBar} Q${xm},${yBar} ${xm},${yTip} Q${xm},${yBar} ${xm + r},${yBar} L${x2 - r},${yBar} Q${x2},${yBar} ${x2},${yEnd}`;
}
function vBrace(y1: number, y2: number, xEnd: number, xBar: number, xTip: number) {
  const ym = (y1 + y2) / 2;
  const r = 16;
  return `M${xEnd},${y1} Q${xBar},${y1} ${xBar},${y1 + r} L${xBar},${ym - r} Q${xBar},${ym} ${xTip},${ym} Q${xBar},${ym} ${xBar},${ym + r} L${xBar},${y2 - r} Q${xBar},${y2} ${xEnd},${y2}`;
}

function CycleLegend({ x0, y0, colors, step, labels }: { x0: number; y0: number; colors: string[]; step: number; labels: [number, string][] }) {
  return (
    <g>
      <text x={x0 - 11} y={y0 - 14} fontSize={18}>Cycle #</text>
      {colors.map((col, i) => (
        <line key={i} x1={x0} x2={x0 + 39} y1={y0 + i * step} y2={y0 + i * step} stroke={col} strokeWidth={2.6} />
      ))}
      {labels.map(([i, s]) => (
        <text key={s} x={x0 + 45} y={y0 + i * step} dy="0.36em" fontSize={18}>{s}</text>
      ))}
    </g>
  );
}

export default function App() {
  const pink = [
    { x: 68, w: 234 },
    { x: 577, w: 233 },
  ];
  const notes: Record<number, React.ReactNode> = {
    0: (
      <g>
        <text x={91} y={143} fontSize={17}>1600 cm<Sup t="-1" size={11} up={7} /></text>
        <text x={208} y={198} textAnchor="middle" fontSize={23} fill={GRAY}>reduction</text>
      </g>
    ),
    1: <text x={383} y={198} textAnchor="middle" fontSize={23} fill={GRAY}>oxidation</text>,
    2: (
      <g>
        <text x={707} y={144} fontSize={17}>1600 cm<Sup t="-1" size={11} up={7} /></text>
        <text x={732} y={231} textAnchor="middle" fontSize={23} fill={GRAY}>reduction</text>
      </g>
    ),
    3: <text x={905} y={231} textAnchor="middle" fontSize={23} fill={GRAY}>oxidation</text>,
    4: <text x={91} y={378} fontSize={17}>1648 cm<Sup t="-1" size={11} up={7} /></text>,
  };
  return (
    <svg width={1137} height={926} style={{ position: "absolute", left: 0, top: 0, background: "#fff" }} fontFamily={FONT}>
      <rect width={1137} height={926} fill="#fff" />
      {/* shading bands */}
      <rect x={47} y={103} width={1003} height={235} fill="#c9d4f9" />
      {pink.map((p, i) => (
        <rect key={"p" + i} x={p.x} y={97} width={p.w} height={495} fill="#ffc9c9" />
      ))}
      {pink.map((p, i) => (
        <rect key={"o" + i} x={p.x} y={103} width={p.w} height={235} fill="#c9a8c9" />
      ))}

      {panelsA.map((p, i) => (
        <TracePanel key={i} idx={i} p={{ ...p, notes: notes[i] }} />
      ))}

      <CycleLegend x0={451} y0={159} colors={cbColors} step={7.33} labels={[[0, "1"], [5, "6"], [10, "11"]]} />
      <CycleLegend x0={973} y0={151} colors={naColors} step={7.67} labels={[[0, "1"], [9, "10"]]} />

      {/* headings */}
      <text x={12} y={24} fontSize={18} fontWeight="bold">a</text>
      <text x={300} y={38} textAnchor="middle" fontSize={23}>Cucurbit[7]uril</text>
      <text x={822} y={38} textAnchor="middle" fontSize={23}>NaCl</text>
      <text x={188} y={67} textAnchor="middle" fontSize={21}>Laser high</text>
      <text x={418} y={67} textAnchor="middle" fontSize={21}>Laser low</text>
      <text x={695} y={67} textAnchor="middle" fontSize={21}>Laser high</text>
      <text x={925} y={67} textAnchor="middle" fontSize={21}>Laser low</text>
      <path d={hBrace(75, 298, 94, 86, 74)} fill="none" stroke="#000" strokeWidth={2} />
      <path d={hBrace(582, 809, 94, 86, 74)} fill="none" stroke="#000" strokeWidth={2} />

      {/* right braces */}
      <path d={vBrace(103, 335, 1051, 1065, 1080)} fill="none" stroke="#000" strokeWidth={2} />
      <path d={vBrace(347, 561, 1051, 1065, 1080)} fill="none" stroke="#000" strokeWidth={2} />
      <text x={1083} y={219} dy="0.36em" fontSize={20}>MV<Sup t="+•" size={13} up={8} /></text>
      <text x={1082} y={454} dy="0.36em" fontSize={20}>MV<Sup t="2+" size={13} up={8} /></text>

      <text transform="translate(30,340) rotate(-90)" textAnchor="middle" fontSize={24}>
        SERS peak amplitude (cts·mW<Sup t="-1" size={15} up={8} /><tspan dy={8}>·s</tspan>
        <Sup t="-1" size={15} up={8} /><tspan dy={8}>)</tspan>
      </text>
      <text x={312} y={615} textAnchor="middle" fontSize={22}>Time (s)</text>
      <text x={822} y={615} textAnchor="middle" fontSize={22}>Time (s)</text>

      {/* b */}
      <text x={12} y={649} fontSize={18} fontWeight="bold">b</text>
      {colB.map((c, i) => (
        <DelayPanel key={i} c={c} />
      ))}
      <DelayLegend x0={111} y0={818} label="1658" />
      <DelayLegend x0={623} y0={719} label="1600" />
      <text transform="translate(31,763) rotate(-90)" textAnchor="middle" fontSize={22}>Delay time (s)</text>
      <text x={313} y={921} textAnchor="middle" fontSize={23}>Cycle number</text>
      <text x={819} y={921} textAnchor="middle" fontSize={23}>Cycle number</text>
    </svg>
  );
}
